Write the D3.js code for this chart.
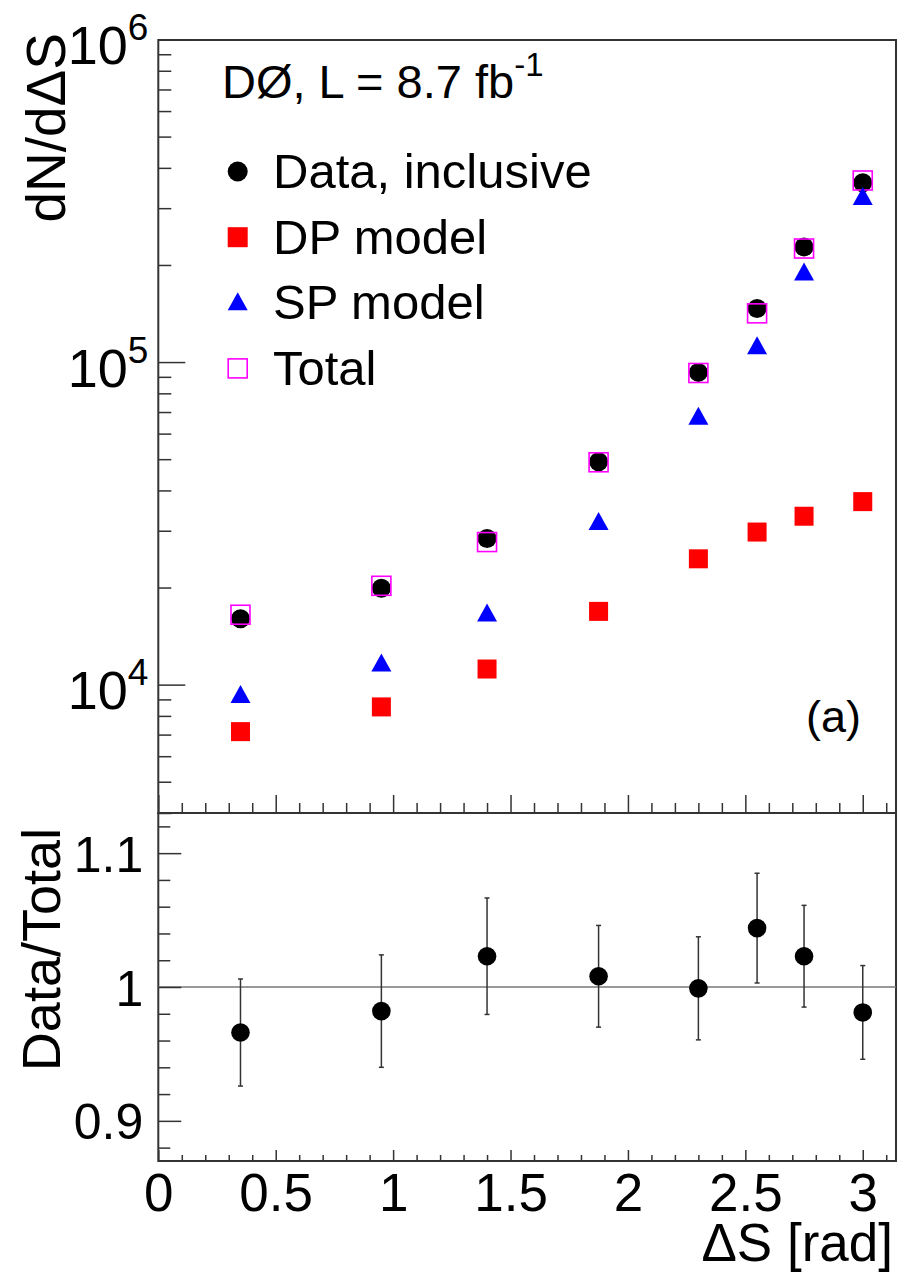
<!DOCTYPE html>
<html>
<head>
<meta charset="utf-8">
<script src="https://cdn.jsdelivr.net/npm/d3@7"></script>
<style>
  html, body { margin: 0; padding: 0; background: #fff; }
  svg { display: block; font-family: "Liberation Sans", Arial, Helvetica, sans-serif; }
</style>
</head>
<body>
<svg id="chart" width="898" height="1273"></svg>
<script>
// Bin centres in ΔS [rad]
const deltaS = [0.35, 0.95, 1.4, 1.875, 2.3, 2.55, 2.75, 3.0];
// dN/dΔS per series
const dataInclusive = [16000, 19900, 28400, 49100, 92900, 146600, 227500, 359700];
const dpModel = [7150, 8530, 11180, 16870, 24550, 29720, 33270, 36930];
const spModel = [9250, 11590, 16560, 31800, 67500, 111500, 188800, 323600];
const totalModel = [16470, 20250, 27670, 48900, 92500, 141600, 224900, 365500];
// Data / Total ratio with uncertainties
const ratio = [0.966, 0.982, 1.023, 1.008, 0.999, 1.044, 1.023, 0.981];
const ratioErr = [0.040, 0.042, 0.0435, 0.038, 0.0385, 0.041, 0.038, 0.035];
// Axis ticks
const xMajorTicks = [0, 0.5, 1, 1.5, 2, 2.5, 3];
const xTickLabels = ["0", "0.5", "1", "1.5", "2", "2.5", "3"];
const yLogMajor = [1e4, 1e5, 1e6];
const yLogExponents = ["4", "5", "6"];
const ratioMajor = [0.9, 1.0, 1.1];
const ratioLabels = ["0.9", "1", "1.1"];
const legendLabels = ["Data, inclusive", "DP model", "SP model", "Total"];

const svg = d3.select("#chart");
const L = 158.3, R = 896, T1 = 40, B1 = 813, T2 = 813, B2 = 1161;
const INK = "#333";

const x = d3.scaleLinear().domain([0, Math.PI]).range([L, R]);
const yTop = d3.scaleLog().domain([4000, 1e6]).range([B1, 39.5]);
const yRat = d3.scaleLinear().domain([0.87, 1.13]).range([B2, T2]);

const xMinor = d3.range(0, 32).map(i => i / 10).filter(v => Math.abs(v * 2 - Math.round(v * 2)) > 1e-6);
const yLogMinor = [];
[1e3, 1e4, 1e5].forEach(d => { for (let k = 2; k <= 9; k++) if (d * k >= 4000) yLogMinor.push(d * k); });
const ratioMinor = d3.range(0.88, 1.121, 0.02).filter(v => Math.abs(v * 10 - Math.round(v * 10)) > 1e-6);

function styleAxis(g) {
  g.select(".domain").remove();
  g.selectAll(".tick line").attr("stroke", INK).attr("stroke-width", 1.5);
}

// ---------- upper panel ----------
const upper = svg.append("g");
upper.append("rect").attr("x", L).attr("y", T1).attr("width", R - L).attr("height", B1 - T1)
  .attr("fill", "none").attr("stroke", INK).attr("stroke-width", 2);

upper.append("g").attr("transform", `translate(0,${B1})`)
  .call(d3.axisBottom(x).tickValues(xMajorTicks).tickSize(-18).tickFormat(""))
  .call(styleAxis);
upper.append("g").attr("transform", `translate(0,${B1})`)
  .call(d3.axisBottom(x).tickValues(xMinor).tickSize(-10).tickFormat(""))
  .call(styleAxis);

const yMajG = upper.append("g").attr("transform", `translate(${L},0)`)
  .call(d3.axisLeft(yTop).tickValues(yLogMajor).tickSize(-27).tickFormat(""))
  .call(styleAxis);
yMajG.selectAll(".tick").each(function(d, i) {
  const t = d3.select(this).append("text")
    .attr("x", -10).attr("y", 24).attr("text-anchor", "end")
    .attr("fill", "#000").attr("font-size", 54);
  t.append("tspan").text("10");
  t.append("tspan").attr("font-size", 37).attr("dy", -24).text(yLogExponents[i]);
});
upper.append("g").attr("transform", `translate(${L},0)`)
  .call(d3.axisLeft(yTop).tickValues(yLogMinor).tickSize(-13).tickFormat(""))
  .call(styleAxis);

// markers
const marks = upper.append("g");
marks.selectAll(".data").data(deltaS).join("circle")
  .attr("cx", d => x(d)).attr("cy", (d, i) => yTop(dataInclusive[i])).attr("r", 9.5).attr("fill", "#000");
marks.selectAll(".tot").data(deltaS).join("rect")
  .attr("x", d => x(d) - 9.5).attr("y", (d, i) => yTop(totalModel[i]) - 9.5)
  .attr("width", 19).attr("height", 19).attr("fill", "none").attr("stroke", "#ff00ff").attr("stroke-width", 1.6);
marks.selectAll(".dp").data(deltaS).join("rect")
  .attr("x", d => x(d) - 9.5).attr("y", (d, i) => yTop(dpModel[i]) - 9.5)
  .attr("width", 19).attr("height", 19).attr("fill", "#ff0000");
const tri = "M0,-10.5L10,7.5L-10,7.5Z";
marks.selectAll(".sp").data(deltaS).join("path")
  .attr("d", tri).attr("fill", "#0000ff")
  .attr("transform", (d, i) => `translate(${x(d)},${yTop(spModel[i])})`);

// legend
const legY = [171.5, 237.2, 302.8, 368.4];
const leg = upper.append("g");
legendLabels.forEach((lab, i) => {
  const cy = legY[i], cx = 237.7;
  if (i === 0) leg.append("circle").attr("cx", cx).attr("cy", cy).attr("r", 10).attr("fill", "#000");
  if (i === 1) leg.append("rect").attr("x", cx - 10).attr("y", cy - 10).attr("width", 20).attr("height", 20).attr("fill", "#ff0000");
  if (i === 2) leg.append("path").attr("d", tri).attr("fill", "#0000ff").attr("transform", `translate(${cx},${cy})`);
  if (i === 3) leg.append("rect").attr("x", cx - 9.5).attr("y", cy - 9.5).attr("width", 19).attr("height", 19)
    .attr("fill", "none").attr("stroke", "#ff00ff").attr("stroke-width", 1.6);
  leg.append("text").attr("x", 273).attr("y", cy + 16.5).attr("font-size", 49).attr("fill", "#000").text(lab);
});

// experiment label
const exp = upper.append("text").attr("x", 222).attr("y", 98).attr("font-size", 47).attr("fill", "#000");
exp.append("tspan").text("DØ, L = 8.7 fb");
exp.append("tspan").attr("font-size", 33).attr("dy", -22).text("-1");

upper.append("text").attr("x", 861).attr("y", 732).attr("text-anchor", "end")
  .attr("font-size", 45).attr("fill", "#000").text("(a)");

upper.append("text").attr("transform", "translate(65,33) rotate(-90)")
  .attr("text-anchor", "end").attr("font-size", 55).attr("fill", "#000").text("dN/dΔS");

// ---------- ratio panel ----------
const lower = svg.append("g");
lower.append("rect").attr("x", L).attr("y", T2).attr("width", R - L).attr("height", B2 - T2)
  .attr("fill", "none").attr("stroke", INK).attr("stroke-width", 2);

lower.append("line").attr("x1", L).attr("x2", R).attr("y1", yRat(1)).attr("y2", yRat(1))
  .attr("stroke", "#777").attr("stroke-width", 1.6);

const xb = lower.append("g").attr("transform", `translate(0,${B2})`)
  .call(d3.axisBottom(x).tickValues(xMajorTicks).tickSize(-11).tickFormat((d, i) => xTickLabels[i]))
  .call(styleAxis);
xb.attr("font-family", null).attr("font-size", null);
xb.selectAll("text").attr("y", 50).attr("dy", 0).attr("font-size", 53).attr("fill", "#000");
lower.append("g").attr("transform", `translate(0,${B2})`)
  .call(d3.axisBottom(x).tickValues(xMinor).tickSize(-6).tickFormat(""))
  .call(styleAxis);

const yb = lower.append("g").attr("transform", `translate(${L},0)`)
  .call(d3.axisLeft(yRat).tickValues(ratioMajor).tickSize(-23).tickPadding(15).tickFormat((d, i) => ratioLabels[i]))
  .call(styleAxis);
yb.attr("font-family", null).attr("font-size", null);
yb.selectAll("text").attr("dy", 18).attr("font-size", 50).attr("fill", "#000");
lower.append("g").attr("transform", `translate(${L},0)`)
  .call(d3.axisLeft(yRat).tickValues(ratioMinor).tickSize(-12).tickFormat(""))
  .call(styleAxis);

const eb = lower.append("g").attr("stroke", INK).attr("stroke-width", 1.5);
deltaS.forEach((d, i) => {
  const cx = x(d), y0 = yRat(ratio[i] - ratioErr[i]), y1 = yRat(ratio[i] + ratioErr[i]);
  eb.append("line").attr("x1", cx).attr("x2", cx).attr("y1", y0).attr("y2", y1);
  eb.append("line").attr("x1", cx - 2.5).attr("x2", cx + 2.5).attr("y1", y0).attr("y2", y0);
  eb.append("line").attr("x1", cx - 2.5).attr("x2", cx + 2.5).attr("y1", y1).attr("y2", y1);
});
lower.selectAll(".rp").data(deltaS).join("circle")
  .attr("cx", d => x(d)).attr("cy", (d, i) => yRat(ratio[i])).attr("r", 9.3).attr("fill", "#000");

lower.append("text").attr("transform", "translate(60,828) rotate(-90)")
  .attr("text-anchor", "end").attr("font-size", 54).attr("fill", "#000").text("Data/Total");

lower.append("text").attr("x", 893).attr("y", 1261).attr("text-anchor", "end")
  .attr("font-size", 53).attr("fill", "#000").text("ΔS [rad]");
</script>
</body>
</html>
